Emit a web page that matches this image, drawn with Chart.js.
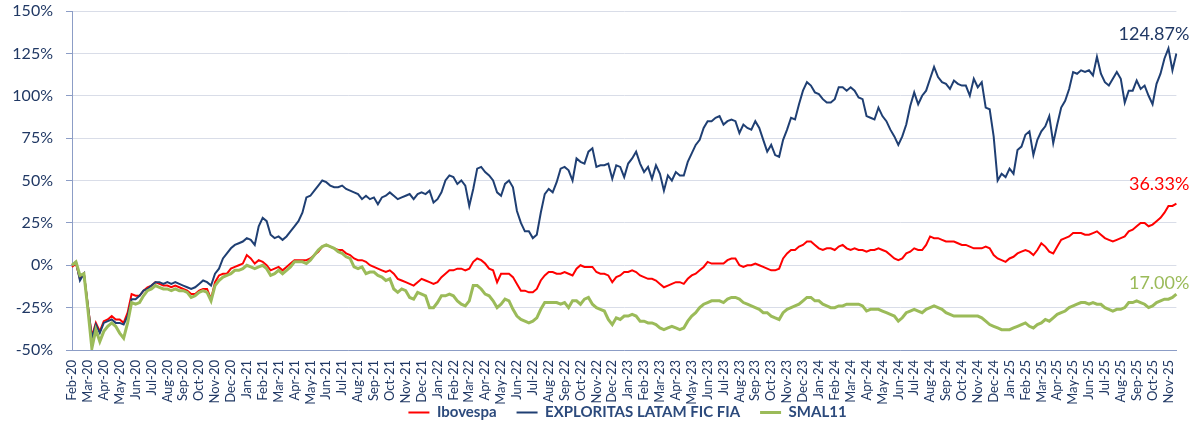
<!DOCTYPE html>
<html>
<head>
<meta charset="utf-8">
<script src="https://cdn.jsdelivr.net/npm/chart.js@4.4.0/dist/chart.umd.min.js"></script>
<style>
    html, body { margin: 0; padding: 0; background: #fff; }
</style>
</head>
<body>
<canvas id="myChart" width="1202" height="426"></canvas>
<script>
// month tick labels (one label every 4 points)
var months = [
    'Feb-20', 'Mar-20', 'Apr-20', 'May-20', 'Jun-20', 'Jul-20', 'Aug-20', 'Sep-20', 'Oct-20', 'Nov-20', 'Dec-20',
    'Jan-21', 'Feb-21', 'Mar-21', 'Apr-21', 'May-21', 'Jun-21', 'Jul-21', 'Aug-21', 'Sep-21', 'Oct-21', 'Nov-21', 'Dec-21',
    'Jan-22', 'Feb-22', 'Mar-22', 'Apr-22', 'May-22', 'Jun-22', 'Jul-22', 'Aug-22', 'Sep-22', 'Oct-22', 'Nov-22', 'Dec-22',
    'Jan-23', 'Feb-23', 'Mar-23', 'Apr-23', 'May-23', 'Jun-23', 'Jul-23', 'Aug-23', 'Sep-23', 'Oct-23', 'Nov-23', 'Dec-23',
    'Jan-24', 'Feb-24', 'Mar-24', 'Apr-24', 'May-24', 'Jun-24', 'Jul-24', 'Aug-24', 'Sep-24', 'Oct-24', 'Nov-24', 'Dec-24',
    'Jan-25', 'Feb-25', 'Mar-25', 'Apr-25', 'May-25', 'Jun-25', 'Jul-25', 'Aug-25', 'Sep-25', 'Oct-25', 'Nov-25'
];
var pointsPerMonth = 4;

var seriesNames = ['Ibovespa', 'EXPLORITAS LATAM FIC FIA', 'SMAL11'];
var endLabels = ['36.33%', '124.87%', '17.00%'];

// cumulative return, % (about weekly)
var ibovespa = [
    -1, 1, -8, -5,   -24, -42, -34, -39,   -33, -32, -30, -32,   -32, -34, -28, -17,
    -18, -18, -15, -13,   -12, -10, -11, -12,   -12, -13, -12, -13,   -14, -15, -17, -17,
    -15, -14, -14, -20,   -10, -6, -5, -5,   -2, -1, 0, 1,
    6, 4, 1, 3,   2, 0, -3, -2,   -1, -3, -1, 1,   3, 3, 3, 3,
    4, 6, 8, 11,   12, 11, 10, 9,   9, 7, 6, 4,   3, 3, 2, 0,
    -1, -2, -3, -4,   -3, -5, -8, -9,   -10, -11, -12, -10,   -8, -9, -10, -11,
    -10, -7, -5, -3,   -3, -2, -2, -3,   -2, 2, 4, 3,   1, -2, -3, -10,
    -5, -5, -5, -7,   -11, -15, -15, -16,   -16, -14, -9, -6,   -4, -4, -5, -5,
    -4, -5, -6, -2,   0, -1, -1, -1,   -4, -5, -5, -6,   -10, -7, -6, -4,
    -4, -3, -4, -6,   -7, -8, -8, -9,   -11, -13, -12, -11,   -10, -10, -11, -8,
    -6, -5, -3, -1,   2, 1, 1, 1,   1, 3, 4, 4,   0, -1, 0, 0,
    1, 0, -1, -2,   -3, -3, -2, 4,   7, 9, 9, 11,   12, 14, 14, 12,
    10, 9, 10, 10,   9, 11, 12, 10,   9, 10, 9, 9,   8, 9, 9, 10,
    9, 8, 6, 4,   3, 4, 7, 8,   10, 9, 9, 12,   17, 16, 16, 15,
    14, 14, 14, 13,   12, 12, 11, 10,   10, 10, 11, 10,   6, 4, 3, 2,
    4, 5, 7, 8,   9, 8, 6, 9,   13, 11, 8, 7,   11, 15, 16, 17,
    19, 19, 19, 18,   18, 19, 20, 18,   16, 15, 14, 15,   16, 17, 20, 21,
    23, 25, 25, 23,   24, 26, 28, 31,   35, 35, 36.33
];
var exploritas = [
    0, 2, -9, -5,   -24, -43, -35, -40,   -34, -33, -32, -34,   -34, -35, -30, -20,
    -20, -18, -15, -14,   -12, -10, -10, -11,   -10, -11, -10, -11,   -12, -13, -14, -13,
    -11, -9, -10, -12,   -5, -2, 4, 7,   10, 12, 13, 14,
    16, 15, 12, 23,   28, 26, 18, 16,   17, 15, 17, 20,   23, 26, 31, 40,
    41, 44, 47, 50,   49, 47, 46, 46,   47, 45, 44, 43,   42, 39, 41, 39,
    40, 36, 40, 41,   43, 41, 39, 40,   41, 42, 39, 42,   43, 42, 44, 37,
    39, 43, 50, 53,   52, 48, 50, 47,   35, 45, 57, 58,   55, 53, 50, 43,
    41, 48, 50, 46,   32, 25, 20, 20,   16, 18, 31, 42,   45, 43, 49, 57,
    58, 56, 50, 63,   61, 60, 67, 69,   58, 59, 59, 60,   51, 59, 58, 52,
    60, 63, 67, 60,   55, 58, 51, 59,   54, 44, 53, 50,   55, 53, 53, 61,
    66, 71, 74, 81,   85, 85, 87, 88,   83, 85, 86, 85,   78, 83, 81, 80,
    85, 81, 74, 67,   71, 65, 64, 74,   80, 87, 86, 95,   103, 108, 106, 102,
    101, 98, 96, 96,   98, 105, 105, 103,   105, 103, 99, 98,   88, 87, 86, 93,
    88, 85, 80, 76,   71, 76, 83, 94,   102, 95, 100, 103,   110, 117, 111, 108,
    107, 104, 109, 107,   106, 106, 100, 110,   105, 108, 93, 92,   76, 50, 54, 52,
    57, 54, 68, 70,   77, 79, 65, 74,   79, 82, 88, 72,   83, 93, 97, 104,
    114, 113, 115, 114,   115, 112, 123, 113,   108, 106, 110, 114,   110, 96, 103, 103,
    109, 104, 106, 100,   95, 107, 113, 122,   128, 115, 124.87
];
var smal11 = [
    0, 2, -6, -5,   -26, -49, -38, -45,   -39, -36, -34, -36,   -40, -43, -34, -22,
    -23, -22, -18, -15,   -14, -12, -13, -14,   -14, -15, -14, -15,   -15, -16, -19, -18,
    -16, -15, -16, -21,   -12, -9, -7, -6,   -5, -3, -3, -2,
    0, -1, -2, -1,   0, -2, -6, -5,   -3, -5, -3, -1,   2, 2, 2, 1,
    3, 6, 9, 11,   12, 11, 10, 8,   7, 5, 4, -1,   -2, -1, -5, -4,
    -4, -6, -7, -9,   -8, -14, -16, -14,   -15, -19, -20, -16,   -17, -18, -25, -25,
    -22, -18, -18, -17,   -18, -21, -23, -24,   -21, -12, -12, -14,   -17, -18, -21, -25,
    -23, -20, -21, -26,   -30, -32, -33, -34,   -33, -31, -26, -22,   -22, -22, -22, -23,
    -22, -25, -21, -21,   -23, -20, -19, -23,   -25, -26, -27, -32,   -35, -31, -32, -30,
    -30, -29, -30, -33,   -33, -34, -34, -35,   -37, -38, -37, -36,   -37, -38, -37, -33,
    -30, -28, -25, -23,   -22, -21, -21, -21,   -22, -20, -19, -19,   -20, -22, -23, -24,
    -25, -26, -28, -28,   -30, -31, -32, -28,   -26, -25, -24, -23,   -21, -19, -19, -21,
    -21, -23, -24, -25,   -25, -24, -24, -23,   -23, -23, -23, -24,   -27, -26, -26, -26,
    -27, -28, -29, -30,   -33, -31, -28, -27,   -26, -27, -28, -26,   -25, -24, -25, -26,
    -28, -29, -30, -30,   -30, -30, -30, -30,   -30, -31, -33, -35,   -36, -37, -38, -38,
    -38, -37, -36, -35,   -34, -36, -37, -35,   -34, -32, -33, -31,   -29, -28, -27, -25,
    -24, -23, -22, -22,   -23, -22, -23, -23,   -25, -26, -27, -26,   -26, -25, -22, -22,
    -21, -22, -23, -25,   -24, -22, -21, -20,   -20, -19, -17
];

var yTicks = { min: -50, max: 150, step: 25 };

(function () {
    'use strict';

    var navy = '#203864';
    var axisColor = '#8C9DC6';
    var colors = ['#FF0000', '#1F3F73', '#9BBB59'];
    var widths = [2, 2, 3];
    var labelOffsets = [19, 19, 11];

    // x labels: month name at first point of each month
    var labels = [];
    for (var i = 0; i < ibovespa.length; i++) {
        labels.push(i % pointsPerMonth === 0 ? months[i / pointsPerMonth] : '');
    }

    Chart.defaults.font.family = 'Lato';
    Chart.defaults.color = navy;

    var values = [ibovespa, exploritas, smal11];
    var datasets = values.map(function (v, i) {
        return {
            label: seriesNames[i],
            data: v,
            borderColor: colors[i],
            backgroundColor: colors[i],
            borderWidth: widths[i],
            pointRadius: 0,
            tension: 0,
            fill: false,
            order: 2 - i   // green on top, like the original
        };
    });

    // pct text at the end of every line
    var endLabelPlugin = {
        id: 'endLabels',
        afterDatasetsDraw: function (chart) {
            var ctx = chart.ctx;
            ctx.save();
            ctx.font = '18px Lato';
            ctx.textAlign = 'right';
            ctx.textBaseline = 'middle';
            chart.data.datasets.forEach(function (ds, i) {
                var pts = chart.getDatasetMeta(i).data;
                var last = pts[pts.length - 1];
                ctx.fillStyle = i === 1 ? navy : ds.borderColor;
                ctx.fillText(endLabels[i], chart.chartArea.right + 13, last.y - labelOffsets[i]);
            });
            ctx.restore();
        }
    };

    // legend centred on the plot, a bit below the month labels
    var legendShift = {
        id: 'legendShift',
        afterLayout: function (chart) {
            chart.legend.left = chart.chartArea.left;
            chart.legend.top = chart.chartArea.bottom + 35;
        }
    };

    new Chart(document.getElementById('myChart').getContext('2d'), {
        type: 'line',
        data: { labels: labels, datasets: datasets },
        plugins: [endLabelPlugin, legendShift],
        options: {
            responsive: false,
            animation: false,
            devicePixelRatio: 1,
            layout: { padding: { top: 11, right: 19, bottom: 0, left: 0 } },
            plugins: {
                tooltip: { enabled: false },
                legend: {
                    position: 'bottom',
                    maxHeight: 18,
                    labels: {
                        usePointStyle: true,
                        pointStyle: 'line',
                        pointStyleWidth: 21,
                        padding: 20,
                        color: '#2C4A7C',
                        font: { size: 15, weight: 'bold' },
                        sort: function (a, b) { return a.datasetIndex - b.datasetIndex; }
                    }
                }
            },
            scales: {
                x: {
                    type: 'category',
                    offset: false,
                    grid: { display: false, drawTicks: false },
                    border: { display: true, color: axisColor, width: 1 },
                    ticks: {
                        autoSkip: false,
                        minRotation: 90,
                        maxRotation: 90,
                        padding: 10,
                        color: navy,
                        font: { size: 13 }
                    },
                    afterFit: function (scale) { scale.height = 58; }
                },
                y: {
                    min: yTicks.min,
                    max: yTicks.max,
                    grid: { color: '#D9DDE8', tickColor: axisColor, tickLength: 6 },
                    border: { display: true, color: axisColor, width: 1 },
                    ticks: {
                        stepSize: yTicks.step,
                        padding: 13,
                        color: navy,
                        font: { size: 16 },
                        callback: function (v) { return v + '%'; }
                    },
                    afterFit: function (scale) {
                        scale.width = 72;
                        scale.paddingTop = 0;
                        scale.paddingBottom = 0;
                    }
                }
            }
        }
    });
})();
</script>
</body>
</html>
